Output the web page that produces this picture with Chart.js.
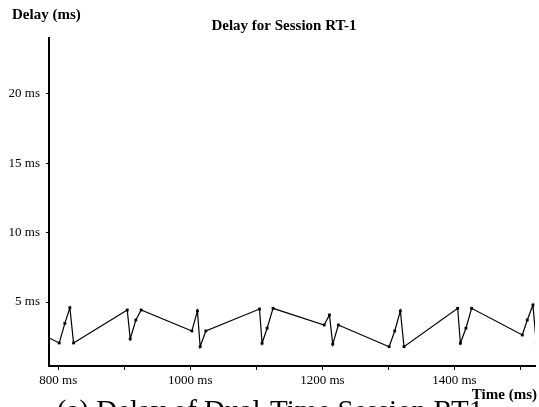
<!DOCTYPE html>
<html>
<head>
<meta charset="utf-8">
<script src="https://cdn.jsdelivr.net/npm/chart.js@4/dist/chart.umd.min.js"></script>
<style>
  html, body { margin: 0; padding: 0; background: #fff; }
  #wrap { width: 539px; height: 407px; overflow: hidden; }
</style>
</head>
<body>
<div id="wrap"><canvas id="delayChart" width="539" height="407"></canvas></div>
<script>
// values (ms)
var timeMs = [700, 801.5, 810, 817.6, 823.2, 904.5, 909, 917.5, 925.6, 1002.4, 1010.8, 1014.9, 1023.5,
  1104.8, 1108.7, 1116.3, 1125.3, 1202.7, 1210.7, 1215.7, 1224.2, 1301.1, 1309.6, 1318.1, 1323.6,
  1404.9, 1409, 1417.4, 1426, 1502.8, 1510.3, 1518.9, 1524];
var delayMs = [4.45, 2.06, 3.47, 4.59, 2.06, 4.43, 2.35, 3.71, 4.43, 2.92, 4.36, 1.79, 2.92,
  4.5, 2.04, 3.12, 4.55, 3.35, 4.07, 1.97, 3.35, 1.79, 2.92, 4.36, 1.79,
  4.55, 2.04, 3.12, 4.55, 2.63, 3.71, 4.79, 2.0];
var xTicksLabelled = [800, 1000, 1200, 1400];
var yTicks = [5, 10, 15, 20];

var serif = "'Liberation Serif', 'Times New Roman', serif";

var points = timeMs.map(function(t, i) { return { x: t, y: delayMs[i] }; });

// titles and the cut-off caption under the plot
var labelsPlugin = {
  id: "labels",
  afterDraw: function(chart) {
    var ctx = chart.ctx;
    ctx.save();
    ctx.fillStyle = "#000";
    ctx.textBaseline = "alphabetic";
    ctx.font = "bold 15px " + serif;
    ctx.textAlign = "left";
    ctx.fillText("Delay (ms)", 12, 19);
    ctx.textAlign = "center";
    ctx.fillText("Delay for Session RT-1", 284, 29.5);
    ctx.textAlign = "right";
    ctx.fillText("Time (ms)", 537, 398.5);
    ctx.font = "29px " + serif;
    ctx.textAlign = "center";
    ctx.fillText("(a) Delay of Dual-Time Session RT1", 270, 420);
    ctx.restore();
  }
};

new Chart(document.getElementById("delayChart"), {
  type: "line",
  data: {
    datasets: [{
      data: points,
      borderColor: "#000",
      borderWidth: 1.2,
      tension: 0,
      pointStyle: "rect",
      pointRadius: 2,
      pointBackgroundColor: "#000",
      pointBorderColor: "#000",
      pointBorderWidth: 0
    }]
  },
  options: {
    responsive: false,
    animation: false,
    events: [],
    layout: { padding: { top: 38, right: 1, left: 0, bottom: 0 } },
    plugins: { legend: { display: false }, title: { display: false }, tooltip: { enabled: false } },
    scales: {
      x: {
        type: "linear",
        min: 786, max: 1522,
        afterFit: function(s) { s.height = 41; },
        border: { display: true, color: "#000", width: 2 },
        grid: { drawOnChartArea: false, drawTicks: true, tickLength: 4, tickColor: "#000" },
        ticks: {
          stepSize: 100,
          includeBounds: false,
          autoSkip: false,
          maxRotation: 0,
          padding: 3,
          color: "#000",
          font: { family: serif, size: 13 },
          callback: function(v) { return xTicksLabelled.indexOf(v) >= 0 ? v + " ms" : ""; }
        }
      },
      y: {
        min: 0.4, max: 24,
        afterFit: function(s) { s.width = 49; },
        afterBuildTicks: function(s) { s.ticks = yTicks.map(function(v) { return { value: v }; }); },
        border: { display: true, color: "#000", width: 2 },
        grid: { drawOnChartArea: false, drawTicks: true, tickLength: 3, tickColor: "#000" },
        ticks: {
          padding: 6,
          color: "#000",
          font: { family: serif, size: 13 },
          callback: function(v) { return v + " ms"; }
        }
      }
    }
  },
  plugins: [labelsPlugin]
});
</script>
</body>
</html>
